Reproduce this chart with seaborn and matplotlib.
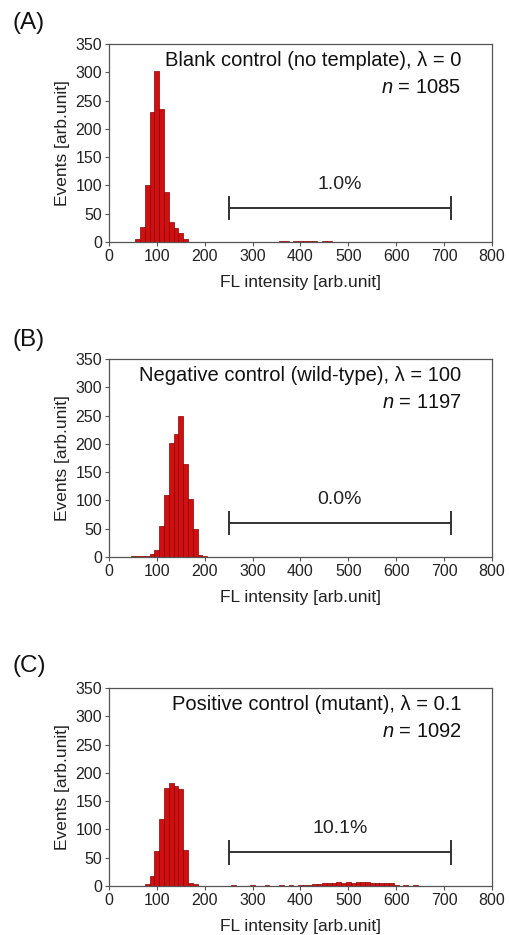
import numpy as np
import pandas as pd
import matplotlib
matplotlib.use('Agg')
import matplotlib.pyplot as plt
import seaborn as sns

# Conteos por bin (centro del bin, ancho 10)
a_bins = [60, 70, 80, 90, 100, 110, 120, 130, 140, 150, 160,
          360, 370, 390, 400, 410, 420, 430, 450, 460]
a_counts = [6, 26, 101, 230, 303, 235, 89, 36, 25, 16, 6,
            1, 1, 2, 1, 1, 2, 1, 1, 1]

b_bins = [50, 60, 70, 80, 90, 100, 110, 120, 130, 140, 150, 160, 170, 180, 190, 200]
b_counts = [1, 1, 2, 1, 5, 12, 55, 110, 202, 217, 250, 165, 102, 49, 3, 1]

c_bins = [80, 90, 100, 110, 120, 130, 140, 150, 160, 170, 180,
          260, 300, 330, 360, 380, 400, 410, 420, 430, 440, 450, 460, 470, 480,
          490, 500, 510, 520, 530, 540, 550, 560, 570, 580, 590, 600, 620, 640]
c_counts = [3, 18, 62, 118, 174, 182, 177, 171, 64, 6, 3,
            1, 1, 1, 1, 1, 2, 1, 2, 3, 4, 5, 6, 6, 7,
            6, 7, 6, 7, 7, 7, 6, 6, 5, 5, 5, 2, 1, 1]

panel_labels = ['(A)', '(B)', '(C)']
titles = ['Blank control (no template), \u03bb = 0',
          'Negative control (wild-type), \u03bb = 100',
          'Positive control (mutant), \u03bb = 0.1']
n_events = [1085, 1197, 1092]
percents = ['1.0%', '0.0%', '10.1%']

gate = [250, 715]   # rango del gate en FL intensity
gate_y = 60         # altura de la barra del gate (eventos)

x_ticks = np.arange(0, 801, 100)
y_ticks = np.arange(0, 351, 50)

sns.set_style('ticks')
plt.rcParams['font.family'] = ['Liberation Sans', 'DejaVu Sans']
plt.rcParams['mathtext.fontset'] = 'custom'
plt.rcParams['mathtext.it'] = 'Liberation Sans:italic'
plt.rcParams['mathtext.rm'] = 'Liberation Sans'

fig = plt.figure(figsize=(5.1, 9.35), dpi=100)

# posiciones de los paneles [left, bottom, width, height]
bottoms = [0.7412, 0.4043, 0.0524]
label_y = [0.975, 0.636, 0.288]

panels = [(a_bins, a_counts), (b_bins, b_counts), (c_bins, c_counts)]

for i, (bins, counts) in enumerate(panels):
    ax = fig.add_axes([0.2137, bottoms[i], 0.751, 0.2118])
    df = pd.DataFrame({'fl': bins, 'events': counts})
    sns.histplot(data=df, x='fl', weights='events', binwidth=10, binrange=(-5, 805),
                 ax=ax, color='#d01010', edgecolor='#8a0000', linewidth=0.5, alpha=1)

    ax.set_xlim(0, 800)
    ax.set_ylim(0, 350)
    ax.set_xticks(x_ticks)
    ax.set_yticks(y_ticks)
    ax.tick_params(direction='out', length=3, width=0.8, color='#555555',
                   labelsize=11.5, pad=2, labelcolor='#222222')
    for s in ax.spines.values():
        s.set_color('#555555')
        s.set_linewidth(0.9)
    ax.set_xlabel('FL intensity [arb.unit]', fontsize=12.5, labelpad=8, color='#222222')
    ax.set_ylabel('Events [arb.unit]', fontsize=12.5, labelpad=4, color='#222222')

    # gate
    ax.plot(gate, [gate_y, gate_y], color='#333333', lw=1.4)
    ax.vlines(gate, gate_y - 22, gate_y + 22, color='#333333', lw=1.4)
    ax.text(np.mean(gate), gate_y + 27, percents[i], ha='center', va='bottom',
            fontsize=14, color='#222222')

    ax.text(0.92, 0.915, titles[i], transform=ax.transAxes, ha='right',
            va='center', fontsize=14.5, color='#111111')
    ax.text(0.92, 0.78, '$n$ = %d' % n_events[i], transform=ax.transAxes,
            ha='right', va='center', fontsize=14.5, color='#111111')

    fig.text(0.024, label_y[i], panel_labels[i], ha='left', va='center',
             fontsize=17.5, color='#111111')

fig.savefig('out.png', dpi=100)
